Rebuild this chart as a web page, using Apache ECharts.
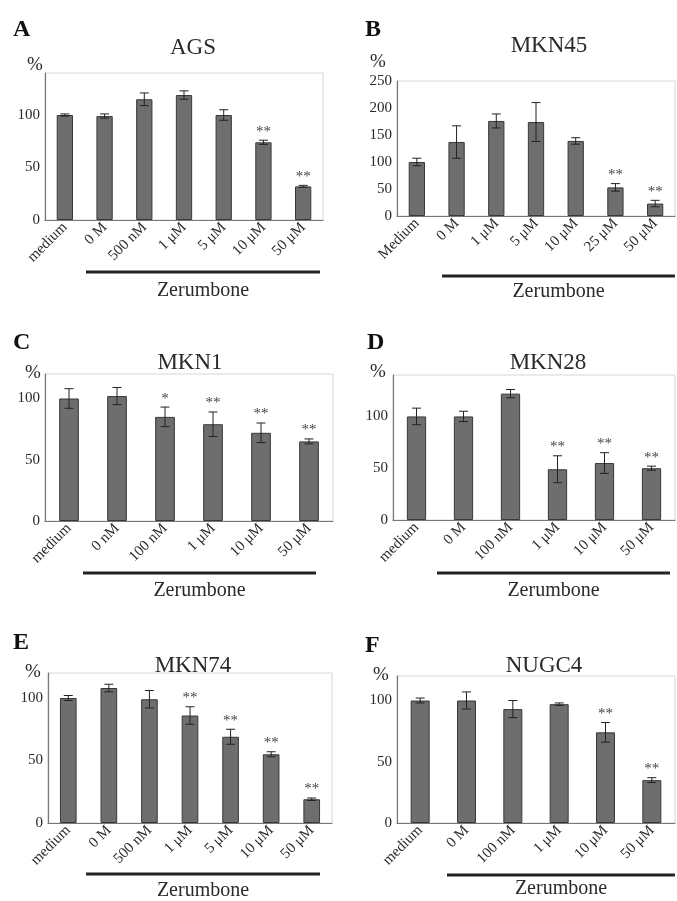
<!DOCTYPE html>
<html lang="en">
<head>
<meta charset="UTF-8">
<title>Zerumbone cell viability</title>
<script src="https://cdn.jsdelivr.net/npm/echarts@6/dist/echarts.min.js"></script>
<style>
html, body { margin: 0; padding: 0; background: #fff; }
#chart { width: 677px; height: 901px; }
</style>
</head>
<body>
<div id="chart"></div>
<script>
// A - AGS
const agsCats = ['medium', '0 M', '500 nM', '1 μM', '5 μM', '10 μM', '50 μM'];
const agsVals = [100, 99, 115, 119, 100, 74, 32];
const agsErr = [1, 2, 6, 4, 5, 2, 1];
const agsSig = ['', '', '', '', '', '**', '**'];

// B - MKN45
const mkn45Cats = ['Medium', '0 M', '1 μM', '5 μM', '10 μM', '25 μM', '50 μM'];
const mkn45Vals = [100, 137, 176, 174, 139, 53, 23];
const mkn45Err = [7, 30, 13, 36, 6, 7, 6];
const mkn45Sig = ['', '', '', '', '', '**', '**'];

// C - MKN1
const mkn1Cats = ['medium', '0 nM', '100 nM', '1 μM', '10 μM', '50 μM'];
const mkn1Vals = [100, 102, 85, 79, 72, 65];
const mkn1Err = [8, 7, 8, 10, 8, 2];
const mkn1Sig = ['', '', '*', '**', '**', '**'];

// D - MKN28
const mkn28Cats = ['medium', '0 M', '100 nM', '1 μM', '10 μM', '50 μM'];
const mkn28Vals = [100, 100, 122, 49, 55, 50];
const mkn28Err = [8, 5, 4, 13, 10, 2];
const mkn28Sig = ['', '', '', '**', '**', '**'];

// E - MKN74
const mkn74Cats = ['medium', '0 M', '500 nM', '1 μM', '5 μM', '10 μM', '50 μM'];
const mkn74Vals = [100, 108, 99, 86, 69, 55, 19];
const mkn74Err = [2, 3, 7, 7, 6, 2, 1];
const mkn74Sig = ['', '', '', '**', '**', '**', '**'];

// F - NUGC4
const nugc4Cats = ['medium', '0 M', '100 nM', '1 μM', '10 μM', '50 μM'];
const nugc4Vals = [100, 100, 93, 97, 74, 35];
const nugc4Err = [2, 7, 7, 1, 8, 2];
const nugc4Sig = ['', '', '', '', '**', '**'];

const serif = '"Liberation Serif", "DejaVu Serif", serif';
const textCol = '#2a2a2a';

// layout of each panel (pixels)
const panels = [
  { letter: 'A', name: 'AGS', cats: agsCats, vals: agsVals, err: agsErr, sig: agsSig, max: 140,
    grid: { left: 45, top: 73, width: 278, height: 147 }, letterPos: [13, 18], title: [188, 31],
    pct: [27, 56], line: [86, 320, 272], zy: 281 },
  { letter: 'B', name: 'MKN45', cats: mkn45Cats, vals: mkn45Vals, err: mkn45Err, sig: mkn45Sig, max: 250, showMax: true,
    grid: { left: 397, top: 81, width: 278, height: 135 }, letterPos: [365, 18], title: [544, 29],
    pct: [370, 53], line: [442, 675, 276], zy: 282 },
  { letter: 'C', name: 'MKN1', cats: mkn1Cats, vals: mkn1Vals, err: mkn1Err, sig: mkn1Sig, max: 120,
    grid: { left: 45, top: 374, width: 288, height: 147 }, letterPos: [13, 331], title: [185, 346],
    pct: [25, 364], line: [83, 316, 573], zy: 581 },
  { letter: 'D', name: 'MKN28', cats: mkn28Cats, vals: mkn28Vals, err: mkn28Err, sig: mkn28Sig, max: 140,
    grid: { left: 393, top: 375, width: 282, height: 145 }, letterPos: [367, 331], title: [543, 346],
    pct: [370, 363], line: [437, 670, 573], zy: 581 },
  { letter: 'E', name: 'MKN74', cats: mkn74Cats, vals: mkn74Vals, err: mkn74Err, sig: mkn74Sig, max: 120,
    grid: { left: 48, top: 673, width: 284, height: 150 }, letterPos: [13, 631], title: [188, 649],
    pct: [25, 663], line: [86, 320, 874], zy: 881 },
  { letter: 'F', name: 'NUGC4', cats: nugc4Cats, vals: nugc4Vals, err: nugc4Err, sig: nugc4Sig, max: 120,
    grid: { left: 397, top: 676, width: 278, height: 147 }, letterPos: [365, 634], title: [539, 649],
    pct: [373, 666], line: [447, 675, 875], zy: 879 }
];

const grids = [], xAxes = [], yAxes = [], series = [], titles = [], graphics = [];

panels.forEach((p, i) => {
  grids.push(Object.assign({
    show: true, borderColor: '#d6d6d6', borderWidth: 1, backgroundColor: 'transparent'
  }, p.grid));

  xAxes.push({
    type: 'category', gridIndex: i, data: p.cats,
    axisLine: { lineStyle: { color: '#777', width: 1.2 } },
    axisTick: { inside: true, length: 3, lineStyle: { color: '#999' } },
    axisLabel: { rotate: 45, fontFamily: serif, fontSize: 15, color: textCol, margin: 5, interval: 0 }
  });

  yAxes.push({
    type: 'value', gridIndex: i, min: 0, max: p.max, interval: 50,
    axisLine: { show: true, lineStyle: { color: '#777', width: 1.2 } },
    axisTick: { show: false },
    splitLine: { show: false },
    axisLabel: { fontFamily: serif, fontSize: 15, color: textCol, margin: 5, showMaxLabel: !!p.showMax }
  });

  series.push({
    type: 'bar', xAxisIndex: i, yAxisIndex: i, data: p.vals, barWidth: '41%',
    itemStyle: { color: '#6e6e6e', borderColor: '#383838', borderWidth: 1 },
    silent: true
  });

  // error bars + significance marks
  series.push({
    type: 'custom', xAxisIndex: i, yAxisIndex: i, silent: true, z: 5,
    data: p.vals.map((v, k) => [k, v, p.err[k]]),
    renderItem: function (params, api) {
      const k = api.value(0), v = api.value(1), e = api.value(2);
      const hi = api.coord([k, v + e]);
      const lo = api.coord([k, v - e]);
      const cap = 4.5;
      const st = { stroke: '#222', lineWidth: 1 };
      const children = [
        { type: 'line', shape: { x1: hi[0], y1: hi[1], x2: lo[0], y2: lo[1] }, style: st },
        { type: 'line', shape: { x1: hi[0] - cap, y1: hi[1], x2: hi[0] + cap, y2: hi[1] }, style: st },
        { type: 'line', shape: { x1: lo[0] - cap, y1: lo[1], x2: lo[0] + cap, y2: lo[1] }, style: st }
      ];
      if (p.sig[k]) {
        children.push({ type: 'text', style: { text: p.sig[k], x: hi[0], y: hi[1] - 1, align: 'center',
          verticalAlign: 'bottom', font: '15px ' + serif, fill: '#444' } });
      }
      return { type: 'group', children: children };
    }
  });

  titles.push({
    text: p.name, left: p.title[0], top: p.title[1], textAlign: 'center',
    textStyle: { fontFamily: serif, fontSize: 23, fontWeight: 'normal', color: textCol }
  });

  graphics.push({ type: 'text', left: p.letterPos[0], top: p.letterPos[1],
    style: { text: p.letter, font: 'bold 24px ' + serif, fill: '#111' } });
  graphics.push({ type: 'text', left: p.pct[0], top: p.pct[1],
    style: { text: '%', font: '19px ' + serif, fill: textCol } });
  graphics.push({ type: 'line', shape: { x1: p.line[0], y1: p.line[2], x2: p.line[1], y2: p.line[2] },
    style: { stroke: '#222', lineWidth: 3 } });
  graphics.push({ type: 'text', x: (p.line[0] + p.line[1]) / 2, y: p.zy,
    style: { text: 'Zerumbone', font: '20px ' + serif, fill: textCol, align: 'center', verticalAlign: 'top' } });
});

const chart = echarts.init(document.getElementById('chart'));
chart.setOption({
  animation: false,
  backgroundColor: '#fff',
  title: titles,
  grid: grids,
  xAxis: xAxes,
  yAxis: yAxes,
  series: series,
  graphic: graphics
});
</script>
</body>
</html>
